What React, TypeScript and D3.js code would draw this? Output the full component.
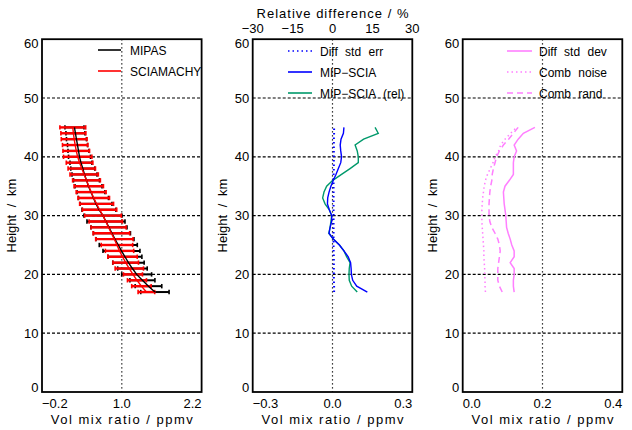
import { useEffect, useRef } from 'react';
import * as d3 from 'd3';

// altitude levels, km
const heights = [17, 18, 19, 20, 21, 22, 23, 24, 25, 26, 27, 28, 29, 30, 31, 32, 33, 34, 35, 36, 37, 38, 39, 40, 41, 42, 43, 44, 45];

// panel 1: profiles, ppmv
const mipas = [1.498, 1.401, 1.310, 1.223, 1.160, 1.100, 1.047, 0.995, 0.947, 0.897, 0.852, 0.807, 0.762, 0.717, 0.657, 0.612, 0.574, 0.536, 0.499, 0.469, 0.439, 0.413, 0.386, 0.364, 0.349, 0.334, 0.318, 0.303, 0.288];
const mipasErr = [0.213, 0.200, 0.188, 0.225, 0.222, 0.236, 0.255, 0.278, 0.286, 0.286, 0.278, 0.271, 0.286, 0.286, 0.255, 0.240, 0.225, 0.210, 0.203, 0.195, 0.188, 0.180, 0.165, 0.165, 0.158, 0.150, 0.150, 0.143, 0.143];
const scia = [1.370, 1.295, 1.228, 1.168, 1.113, 1.059, 1.011, 0.966, 0.927, 0.888, 0.843, 0.801, 0.759, 0.717, 0.666, 0.621, 0.578, 0.539, 0.503, 0.469, 0.434, 0.398, 0.365, 0.337, 0.315, 0.299, 0.284, 0.272, 0.263];
const sciaErr = [0.125, 0.146, 0.143, 0.143, 0.213, 0.192, 0.221, 0.213, 0.237, 0.281, 0.275, 0.263, 0.251, 0.275, 0.258, 0.255, 0.237, 0.225, 0.221, 0.209, 0.213, 0.206, 0.200, 0.213, 0.200, 0.191, 0.194, 0.188, 0.194];

// panel 2: differences
const diffStdErr = [0.006, 0.006, 0.005, 0.005, 0.005, 0.005, 0.005, 0.004, 0.004, 0.004, 0.004, 0.004, 0.004, 0.004, 0.004, 0.004, 0.004, 0.004, 0.004, 0.004, 0.004, 0.005, 0.005, 0.005, 0.005, 0.005, 0.005, 0.006, 0.006];
const diffAbs = [0.131, 0.091, 0.076, 0.071, 0.070, 0.068, 0.059, 0.043, 0.026, 0.003, -0.013, -0.009, -0.003, -0.003, -0.012, -0.019, -0.018, -0.013, -0.006, 0.003, 0.013, 0.022, 0.031, 0.034, 0.031, 0.029, 0.032, 0.041, 0.043];
const diffRel = [9.3, 7.2, 6.3, 6.2, 6.3, 6.6, 5.3, 4.3, 2.6, 0.3, -1.4, -0.9, -0.6, -0.3, -1.2, -2.8, -3.7, -3.2, -2.2, 0.1, 3.4, 6.6, 9.7, 9.7, 9.3, 8.5, 11.7, 17.2, 16.0];

// panel 3: spread
const diffStdDev = [0.129, 0.127, 0.127, 0.129, 0.129, 0.119, 0.129, 0.129, 0.123, 0.119, 0.114, 0.110, 0.109, 0.108, 0.106, 0.104, 0.103, 0.102, 0.106, 0.117, 0.127, 0.127, 0.127, 0.129, 0.135, 0.129, 0.139, 0.152, 0.181];
const combNoise = [0.057, 0.056, 0.056, 0.055, 0.055, 0.054, 0.053, 0.053, 0.052, 0.051, 0.050, 0.049, 0.048, 0.048, 0.048, 0.049, 0.050, 0.052, 0.054, 0.057, 0.062, 0.069, 0.076, 0.081, 0.090, 0.095, 0.106, 0.120, 0.135];
const combRand = [0.099, 0.092, 0.088, 0.088, 0.088, 0.090, 0.092, 0.094, 0.092, 0.088, 0.081, 0.073, 0.068, 0.066, 0.066, 0.066, 0.067, 0.068, 0.070, 0.073, 0.074, 0.077, 0.081, 0.085, 0.092, 0.102, 0.115, 0.127, 0.139];

const yTicks = [0, 10, 20, 30, 40, 50, 60];
const yGrid = [10, 20, 30, 40, 50];
const xTicks1 = [-0.2, 1.0, 2.2];
const xTicks2 = [-0.3, 0.0, 0.3];
const xTicks3 = [0.0, 0.2, 0.4];
const relTicks = [-30, -15, 0, 15, 30];

const FONT = 'Liberation Sans, Arial, sans-serif';
const PINK = '#ff7fff';
const GREEN = '#00996b';

export default function App() {
  const svgRef = useRef<SVGSVGElement>(null);

  useEffect(() => {
    if (!svgRef.current) return;
    const svg = d3.select(svgRef.current);
    svg.selectAll('*').remove();

    const top = 39.2;
    const bottom = 392;
    const pw = 159.6;
    const lefts = [42, 252.7, 462.7];

    const y = d3.scaleLinear().domain([0, 60]).range([bottom, top]);

    const txt = (g: any, x: number, yy: number, s: string, anchor = 'start', size = 12.5) =>
      g.append('text')
        .attr('x', x).attr('y', yy)
        .attr('text-anchor', anchor)
        .attr('font-family', FONT)
        .attr('font-size', size)
        .attr('fill', '#000')
        .style('word-spacing', '4px')
        .text(s);

    const panel = (i: number, domain: [number, number], ticks: number[], fmt: (v: number) => string) => {
      const x0 = lefts[i];
      const x1 = x0 + pw;
      const x = d3.scaleLinear().domain(domain).range([x0, x1]);
      const g = svg.append('g');

      // grid
      g.selectAll('.hg').data(yGrid).join('line')
        .attr('x1', x0).attr('x2', x1)
        .attr('y1', d => y(d)).attr('y2', d => y(d))
        .attr('stroke', '#000').attr('stroke-width', 1.2)
        .attr('stroke-dasharray', '3,2');
      g.append('line')
        .attr('x1', x(ticks[1])).attr('x2', x(ticks[1]))
        .attr('y1', top).attr('y2', bottom)
        .attr('stroke', '#000').attr('stroke-width', 1.2)
        .attr('stroke-dasharray', '1.3,2.7');

      // y labels
      yTicks.forEach(v => {
        const yy = v === 0 ? y(v) : v === 60 ? y(v) + 9 : y(v) + 4.5;
        txt(g, x0 - 3.5, yy, String(v), 'end', 13);
      });
      g.append('text')
        .attr('transform', `translate(${x0 - 26},${(top + bottom) / 2}) rotate(-90)`)
        .attr('text-anchor', 'middle')
        .attr('font-family', FONT).attr('font-size', 13)
        .style('word-spacing', '4px')
        .text('Height / km');

      // x labels
      ticks.forEach((v, j) => {
        const anchor = j === 0 ? 'start' : j === ticks.length - 1 ? 'end' : 'middle';
        txt(g, x(v), 407.5, fmt(v), anchor, 13);
      });
      g.append('text')
        .attr('x', (x0 + x1) / 2).attr('y', 423.5)
        .attr('text-anchor', 'middle')
        .attr('font-family', FONT).attr('font-size', 13)
        .attr('textLength', 142).attr('lengthAdjust', 'spacing')
        .text('Vol mix ratio / ppmv');

      return { g, x, x0, x1 };
    };

    const f1 = d3.format('.1f');
    const lineOf = (xs: any, vals: number[]) =>
      d3.line<number>().x(d => xs(d)).y((_, k) => y(heights[k]))(vals);

    // ---------- panel 1 ----------
    {
      const { g, x } = panel(0, [-0.2, 2.2], xTicks1, f1);
      const bars = (mean: number[], err: number[], color: string, w: number) => {
        heights.forEach((h, k) => {
          const lo = x(mean[k] - err[k]);
          const hi = x(mean[k] + err[k]);
          const yy = y(h);
          g.append('line').attr('x1', lo).attr('x2', hi).attr('y1', yy).attr('y2', yy)
            .attr('stroke', color).attr('stroke-width', w);
          [lo, hi].forEach(c => g.append('line').attr('x1', c).attr('x2', c)
            .attr('y1', yy - 2.2).attr('y2', yy + 2.2)
            .attr('stroke', color).attr('stroke-width', 1.6));
        });
      };
      bars(mipas, mipasErr, '#000', 2);
      bars(scia, sciaErr, '#ff0000', 2.4);
      g.append('path').attr('d', lineOf(x, mipas)).attr('fill', 'none')
        .attr('stroke', '#000').attr('stroke-width', 1.4);
      g.append('path').attr('d', lineOf(x, scia)).attr('fill', 'none')
        .attr('stroke', '#ff0000').attr('stroke-width', 1.4);

      const leg = [
        { label: 'MIPAS', color: '#000' },
        { label: 'SCIAMACHY', color: '#ff0000' },
      ];
      leg.forEach((l, k) => {
        const yy = 50 + k * 21;
        g.append('line').attr('x1', 98).attr('x2', 121).attr('y1', yy).attr('y2', yy)
          .attr('stroke', l.color).attr('stroke-width', 1.6);
        txt(g, 130, yy + 4.5, l.label, 'start', 12);
      });
    }

    // ---------- panel 2 ----------
    {
      const { g, x, x0, x1 } = panel(1, [-0.3, 0.3], xTicks2, f1);
      const xr = d3.scaleLinear().domain([-30, 30]).range([x0, x1]);
      g.append('path').attr('d', lineOf(x, diffStdErr)).attr('fill', 'none')
        .attr('stroke', '#0000ff').attr('stroke-width', 2).attr('stroke-dasharray', '1.5,3');
      g.append('path').attr('d', lineOf(xr, diffRel)).attr('fill', 'none')
        .attr('stroke', GREEN).attr('stroke-width', 1.4);
      g.append('path').attr('d', lineOf(x, diffAbs)).attr('fill', 'none')
        .attr('stroke', '#0000ff').attr('stroke-width', 1.4);

      relTicks.forEach(v => txt(g, xr(v), 33, d3.format('d')(v), 'middle', 13));
      g.append('text')
        .attr('x', (x0 + x1) / 2).attr('y', 18)
        .attr('text-anchor', 'middle')
        .attr('font-family', FONT).attr('font-size', 13)
        .attr('textLength', 152).attr('lengthAdjust', 'spacing')
        .text('Relative difference / %');

      const leg = [
        { label: 'Diff std err', color: '#0000ff', dash: '1.5,3' },
        { label: 'MIP\u2212SCIA', color: '#0000ff', dash: null },
        { label: 'MIP\u2212SCIA (rel)', color: GREEN, dash: null },
      ];
      leg.forEach((l, k) => {
        const yy = 51 + k * 21;
        g.append('line').attr('x1', 288).attr('x2', 312).attr('y1', yy).attr('y2', yy)
          .attr('stroke', l.color).attr('stroke-width', 1.6)
          .attr('stroke-dasharray', l.dash);
        txt(g, 320, yy + 4.5, l.label, 'start', 12);
      });
    }

    // ---------- panel 3 ----------
    {
      const { g, x } = panel(2, [0, 0.4], xTicks3, f1);
      g.append('path').attr('d', lineOf(x, combNoise)).attr('fill', 'none')
        .attr('stroke', PINK).attr('stroke-width', 1.5).attr('stroke-dasharray', '1.5,3');
      g.append('path').attr('d', lineOf(x, combRand)).attr('fill', 'none')
        .attr('stroke', PINK).attr('stroke-width', 1.5).attr('stroke-dasharray', '6,4');
      g.append('path').attr('d', lineOf(x, diffStdDev)).attr('fill', 'none')
        .attr('stroke', PINK).attr('stroke-width', 1.5);

      const leg = [
        { label: 'Diff std dev', dash: null },
        { label: 'Comb noise', dash: '1.5,3' },
        { label: 'Comb rand', dash: '6,4' },
      ];
      leg.forEach((l, k) => {
        const yy = 51 + k * 21;
        g.append('line').attr('x1', 507).attr('x2', 532).attr('y1', yy).attr('y2', yy)
          .attr('stroke', PINK).attr('stroke-width', 1.6)
          .attr('stroke-dasharray', l.dash);
        txt(g, 539, yy + 4.5, l.label, 'start', 12);
      });
    }

    // frames on top
    lefts.forEach(x0 => {
      svg.append('rect')
        .attr('x', x0).attr('y', top).attr('width', pw).attr('height', bottom - top)
        .attr('fill', 'none').attr('stroke', '#000').attr('stroke-width', 1.8);
    });
  }, []);

  return (
    <svg
      ref={svgRef}
      width={632}
      height={430}
      style={{ position: 'absolute', left: 0, top: 0, background: '#fff' }}
    />
  );
}
